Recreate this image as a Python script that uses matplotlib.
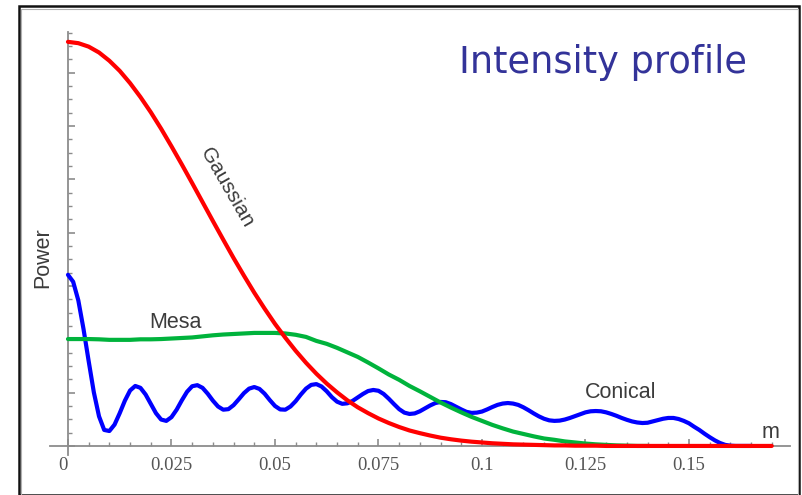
import numpy as np
import matplotlib
matplotlib.use("Agg")
import matplotlib.pyplot as plt
from matplotlib.patches import Rectangle
from matplotlib.ticker import MultipleLocator

# radius (m)
step_fine = 0.00125
step = 0.0025

# Gaussian beam
gaussian = [1.516, 1.511, 1.498, 1.476, 1.445, 1.407, 1.361, 1.309, 1.252, 1.190,
            1.124, 1.056, 0.986, 0.915, 0.844, 0.774, 0.705, 0.639, 0.575, 0.515,
            0.458, 0.406, 0.357, 0.312, 0.271, 0.234, 0.201, 0.171, 0.145, 0.123,
            0.103, 0.086, 0.071, 0.058, 0.048, 0.039, 0.031, 0.025, 0.020, 0.016,
            0.013, 0.010, 0.008, 0.006, 0.005, 0.004, 0.003, 0.002, 0.002, 0.001,
            0.001, 0.001, 0.000, 0.000, 0.000, 0.000, 0.000, 0.000, 0.000, 0.000,
            0.000, 0.000, 0.000, 0.000, 0.000, 0.000, 0.000, 0.000, 0.000]

# Mesa beam
mesa = [0.401, 0.401, 0.401, 0.400, 0.398, 0.398, 0.398, 0.400, 0.400, 0.401,
        0.403, 0.405, 0.407, 0.411, 0.415, 0.418, 0.420, 0.422, 0.424, 0.424,
        0.424, 0.422, 0.417, 0.409, 0.394, 0.383, 0.368, 0.351, 0.334, 0.313,
        0.291, 0.268, 0.248, 0.225, 0.205, 0.184, 0.163, 0.144, 0.126, 0.109,
        0.094, 0.079, 0.066, 0.054, 0.045, 0.036, 0.028, 0.023, 0.017, 0.013,
        0.009, 0.006, 0.004, 0.002, 0.001, 0.000, 0.000]

# Conical beam (finer sampling)
conical = [0.642, 0.616, 0.546, 0.439, 0.318, 0.201, 0.111, 0.060, 0.056, 0.080,
           0.123, 0.170, 0.208, 0.225, 0.218, 0.193, 0.158, 0.123, 0.099, 0.094,
           0.108, 0.136, 0.171, 0.203, 0.224, 0.228, 0.218, 0.196, 0.170, 0.148,
           0.136, 0.138, 0.153, 0.175, 0.198, 0.215, 0.221, 0.214, 0.196, 0.172,
           0.150, 0.137, 0.136, 0.148, 0.168, 0.193, 0.215, 0.229, 0.232, 0.223,
           0.205, 0.183, 0.166, 0.158, 0.160, 0.169, 0.182, 0.195, 0.206, 0.210,
           0.207, 0.195, 0.177, 0.157, 0.138, 0.125, 0.120, 0.122, 0.130, 0.141,
           0.152, 0.161, 0.165, 0.164, 0.157, 0.147, 0.137, 0.128, 0.124, 0.125,
           0.129, 0.137, 0.146, 0.154, 0.159, 0.161, 0.159, 0.154, 0.145, 0.134,
           0.122, 0.111, 0.102, 0.096, 0.094, 0.095, 0.099, 0.105, 0.112, 0.119,
           0.126, 0.130, 0.131, 0.130, 0.126, 0.120, 0.113, 0.105, 0.098, 0.092,
           0.088, 0.086, 0.087, 0.092, 0.097, 0.102, 0.105, 0.105, 0.101, 0.094,
           0.085, 0.072, 0.060, 0.046, 0.033, 0.021, 0.011, 0.004, 0.001, 0.000,
           0.000, 0.000, 0.000]

x_gauss = np.arange(len(gaussian)) * step
x_mesa = np.arange(len(mesa)) * step
x_conical = np.arange(len(conical)) * step_fine

tick_values = [0, 0.025, 0.05, 0.075, 0.1, 0.125, 0.15]
tick_labels = ["0", "0.025", "0.05", "0.075", "0.1", "0.125", "0.15"]

plt.rcParams['font.family'] = ['Liberation Sans', 'DejaVu Sans']

fig = plt.figure(figsize=(8.02, 4.95), dpi=100)
ax = fig.add_axes([0.0623, 0.0808, 0.9227, 0.8546])

ax.plot(x_conical, conical, color="#0000ff", lw=3.0, zorder=3, solid_capstyle="round")
ax.plot(x_mesa, mesa, color="#00b33c", lw=3.0, zorder=4, solid_capstyle="round")
ax.plot(x_gauss, gaussian, color="#ff0000", lw=3.0, zorder=5, solid_capstyle="round")

ax.set_xlim(-0.00435, 0.1744)
ax.set_ylim(-0.034, 1.553)

# axes cross at the origin
axis_col = "#8c8c8c"
for side in ["top", "right"]:
    ax.spines[side].set_visible(False)
ax.spines["left"].set_position(("data", 0))
ax.spines["bottom"].set_position(("data", 0))
for side in ["left", "bottom"]:
    ax.spines[side].set_color(axis_col)
    ax.spines[side].set_linewidth(1.3)

ax.set_xticks(tick_values)
ax.set_xticklabels(tick_labels, family="Liberation Serif", fontsize=13.5, color="#555555")
ax.xaxis.set_minor_locator(MultipleLocator(0.005))
ax.yaxis.set_major_locator(MultipleLocator(0.2))
ax.yaxis.set_minor_locator(MultipleLocator(0.05))
ax.tick_params(axis="x", which="both", direction="in", color=axis_col, pad=8)
ax.tick_params(axis="x", which="major", length=5, width=1.2)
ax.tick_params(axis="x", which="minor", length=3, width=1.0)
ax.tick_params(axis="y", which="both", direction="in", color=axis_col, labelleft=False)
ax.tick_params(axis="y", which="major", length=5, width=1.2)
ax.tick_params(axis="y", which="minor", length=3, width=1.0)
for lbl in ax.get_xticklabels():
    if lbl.get_text() == "0":
        lbl.set_horizontalalignment("right")

label_col = "#3c3c3c"
ax.text(0.0384, 0.968, "Gaussian", rotation=-60, fontsize=15, color=label_col,
        ha="center", va="center")
ax.text(0.0259, 0.462, "Mesa", fontsize=15.5, color=label_col, ha="center", va="center")
ax.text(0.1334, 0.201, "Conical", fontsize=15.5, color=label_col, ha="center", va="center")
ax.text(0.1698, 0.051, "m", fontsize=15.5, color=label_col, ha="center", va="center")
fig.text(43 / 802, 1 - 258 / 495, "Power", rotation=90, fontsize=15.5, color=label_col,
         ha="center", va="center")

fig.text(603 / 802, 1 - 63 / 495, "Intensity profile", fontsize=26.5, color="#333399",
         ha="center", va="center", family=["DejaVu Sans"])

# outer frame
fig.patches.append(Rectangle((18.5 / 802, 0.0), 780.5 / 802, 1 - 6 / 495,
                             transform=fig.transFigure, fill=False,
                             edgecolor="#111111", lw=1.8))
fig.patches.append(Rectangle((20.5 / 802, 0.0), 777 / 802, 1 - 8.5 / 495,
                             transform=fig.transFigure, fill=False,
                             edgecolor="#b0b0b0", lw=0.8))

fig.savefig("out.png", dpi=100)
